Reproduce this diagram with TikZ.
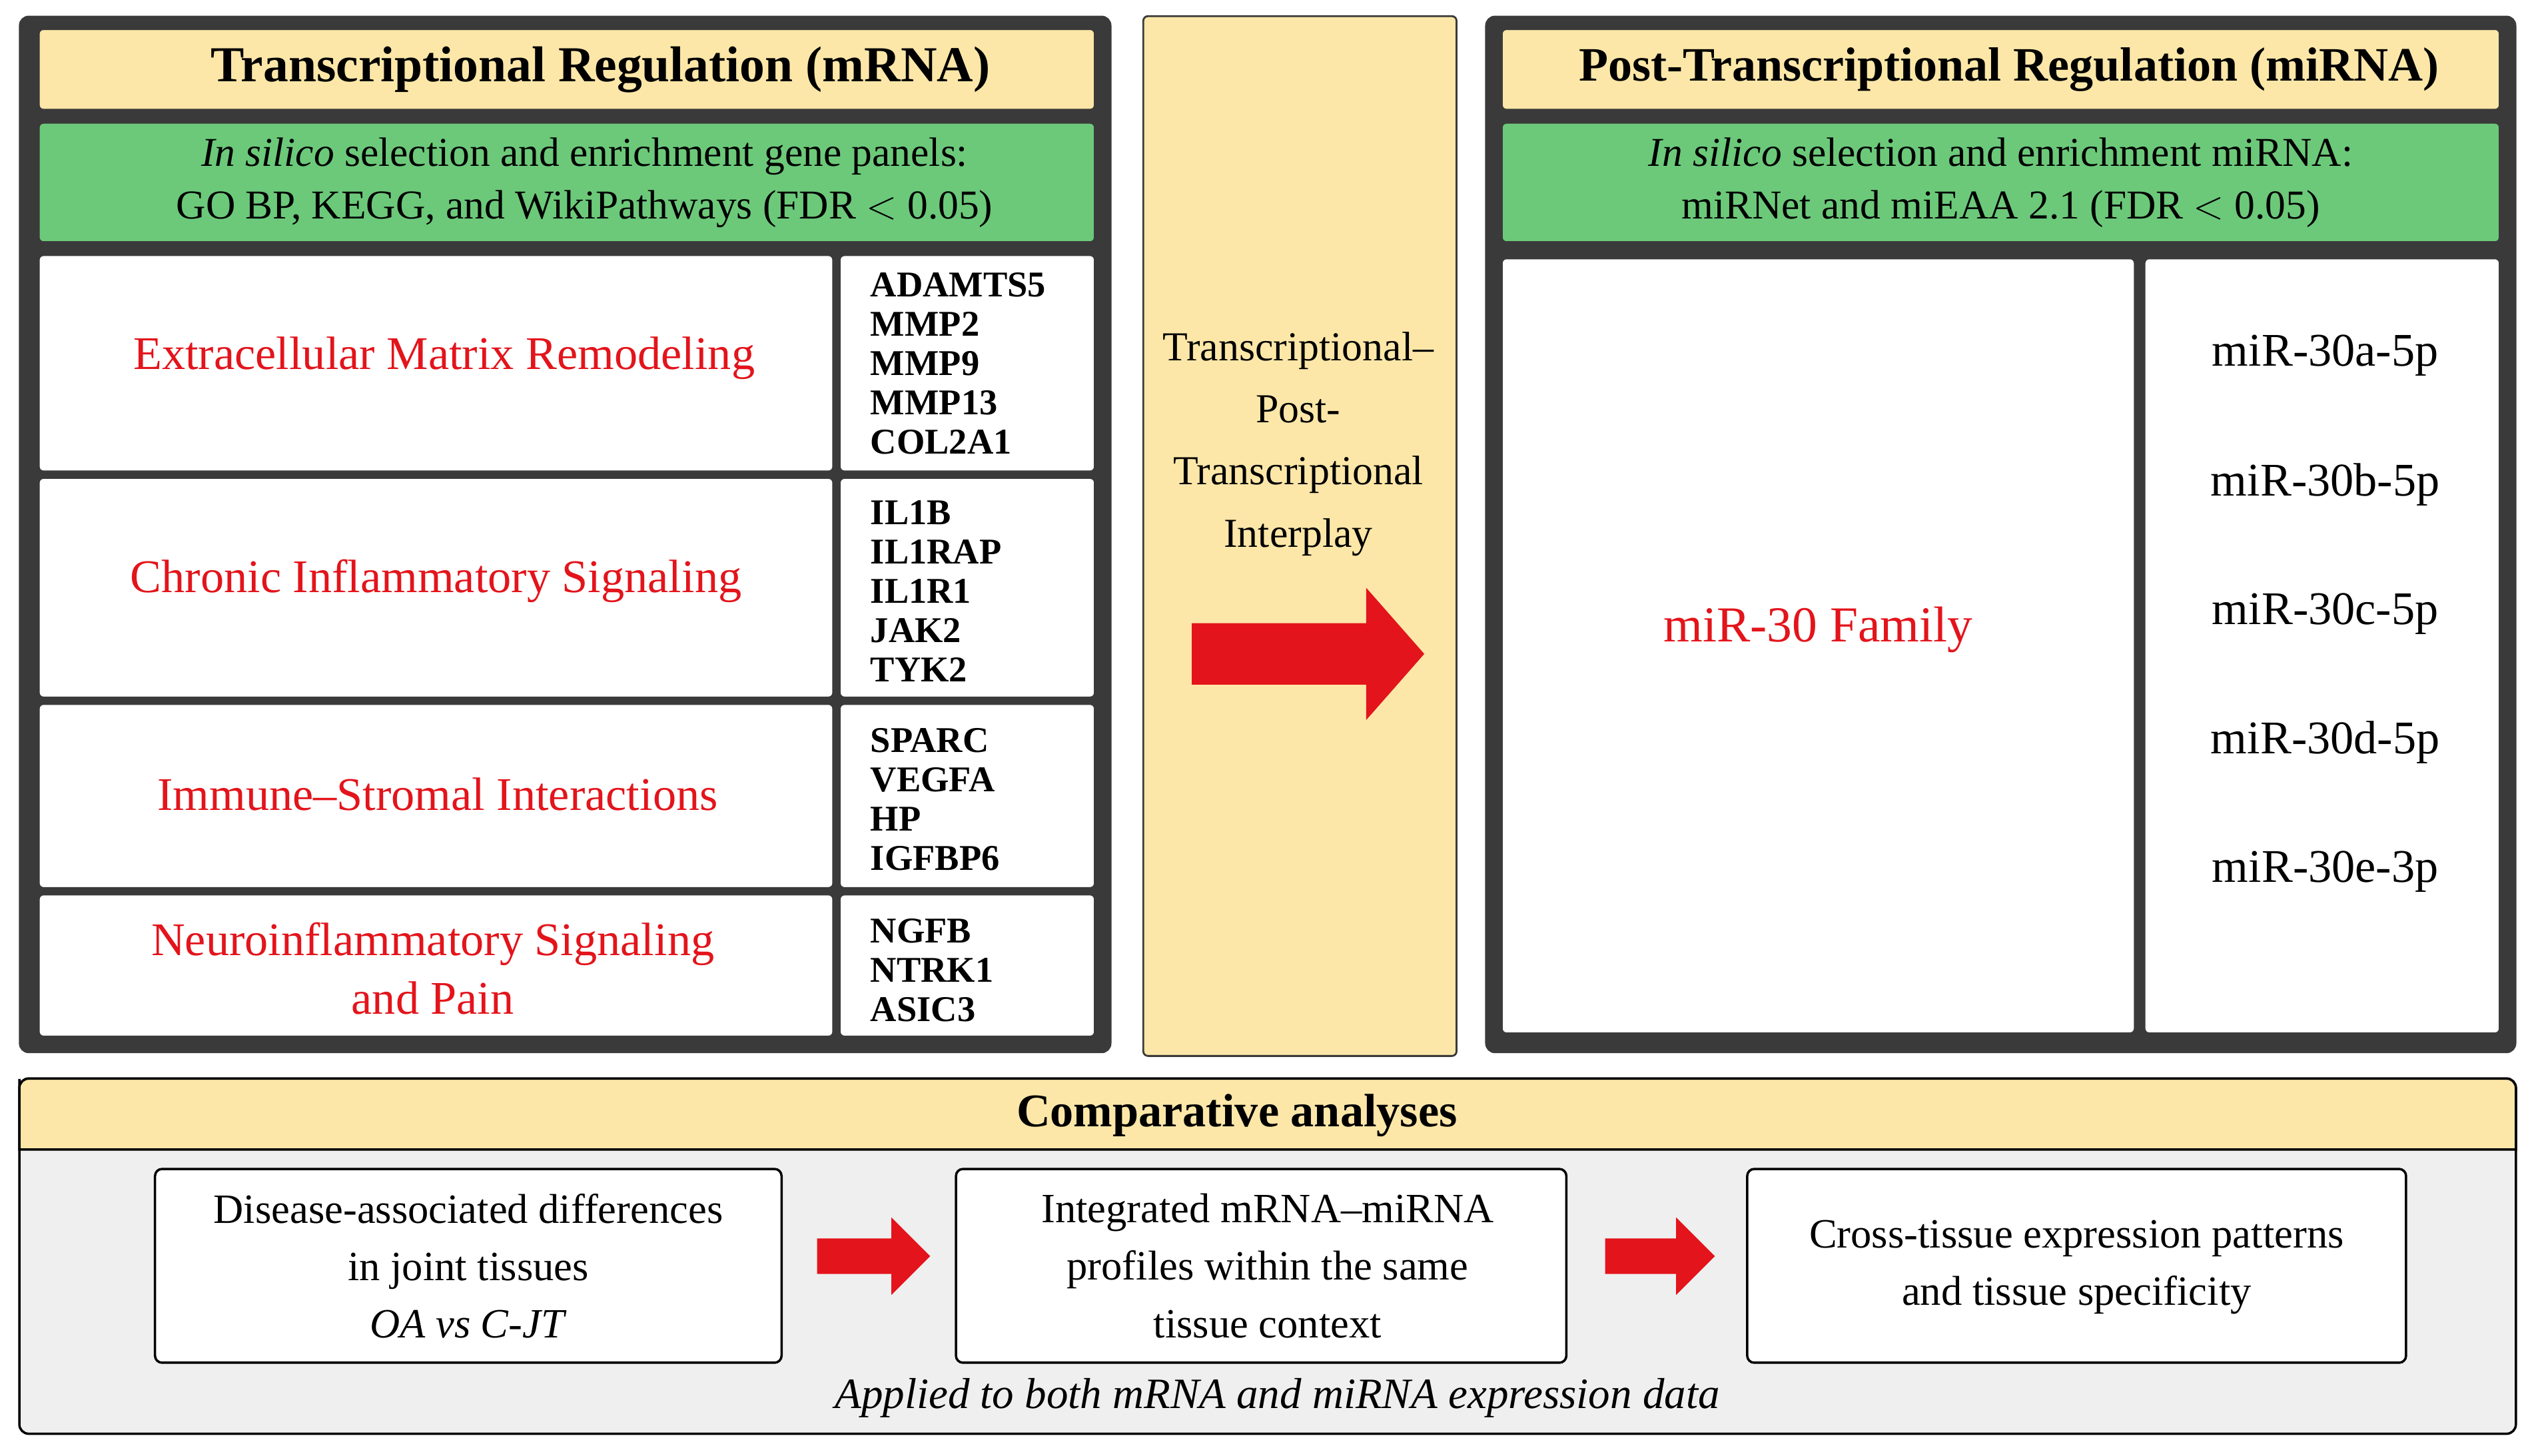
\documentclass[tikz,border=0pt]{standalone}
\usepackage{fontspec}
\setmainfont{Liberation Serif}
\usetikzlibrary{arrows.meta,positioning}
\definecolor{hdryellow}{HTML}{FCE7A8}
\definecolor{selgreen}{HTML}{6CC97A}
\definecolor{frame}{HTML}{3A3A3A}
\definecolor{pathred}{HTML}{E3141B}
\definecolor{lightgray}{HTML}{EFEFEF}

\tikzset{
  panel/.style={fill=frame, draw=frame, rounded corners=4pt},
  header/.style={fill=hdryellow, draw=frame, line width=0.8pt, rounded corners=2pt},
  select/.style={fill=selgreen, draw=frame, line width=0.8pt, rounded corners=2pt},
  cell/.style={fill=white, draw=frame, line width=0.8pt, rounded corners=2pt},
  stage/.style={fill=white, draw=black, line width=1pt, rounded corners=3pt},
  bigarrow/.style={fill=pathred, draw=none},
  pathway/.style={text=pathred, font=\fontsize{20}{25}\selectfont, align=center},
  gene/.style={font=\bfseries\fontsize{15.5}{16.8}\selectfont, align=left},
  mirna/.style={font=\fontsize{20}{24}\selectfont},
  steptext/.style={align=center, font=\fontsize{17.8}{24.5}\selectfont},
}

\begin{document}
\begin{tikzpicture}[x=0.02424cm, y=-0.02424cm]
  \useasboundingbox (0,0) rectangle (1568,901.4);
  % left panel
  \draw[panel] (12,10) rectangle (688,652);
  \draw[header] (24,18) rectangle (678,68);
  \node (lhead) at (372,43) {\bfseries\fontsize{21.5}{24}\selectfont Transcriptional Regulation (mRNA)};
  \draw[select] (24,76) rectangle (678,150);
  \node[align=center, font=\fontsize{17.5}{22.5}\selectfont] (lsel) at (362,113)
    {\textit{In silico} selection and enrichment gene panels:\\GO BP, KEGG, and WikiPathways (FDR {$<$} 0.05)};
  \foreach \ya/\yb in {158/292, 296/432, 436/550, 554/642} {
    \draw[cell] (24,\ya) rectangle (516,\yb);
    \draw[cell] (520,\ya) rectangle (678,\yb);
  }
  \node[pathway] (ecm) at (275,222) {Extracellular Matrix Remodeling};
  \node[pathway] (cis) at (270,360) {Chronic Inflammatory Signaling};
  \node[pathway] (isi) at (271,492) {Immune–Stromal Interactions};
  \node[pathway] (nsp) at (268,600) {Neuroinflammatory Signaling\\and Pain};
  \node[gene, anchor=west] (g1) at (534,225) {ADAMTS5\\MMP2\\MMP9\\MMP13\\COL2A1};
  \node[gene, anchor=west] (g2) at (534,366) {IL1B\\IL1RAP\\IL1R1\\JAK2\\TYK2};
  \node[gene, anchor=west] (g3) at (534,495) {SPARC\\VEGFA\\HP\\IGFBP6};
  \node[gene, anchor=west] (g4) at (534,601) {NGFB\\NTRK1\\ASIC3};
  % middle column
  \draw[header] (708,10) rectangle (902,654);
  \node[align=center, font=\fontsize{17.6}{26.5}\selectfont] (inter) at (804,275)
    {Transcriptional–\\Post-\\Transcriptional\\Interplay};
  \fill[bigarrow] (738,386) -- (846,386) -- (846,364) -- (882,405) -- (846,446) -- (846,424) -- (738,424) -- cycle;
  % right panel
  \draw[panel] (920,10) rectangle (1558,652);
  \draw[header] (930,18) rectangle (1548,68);
  \node (rhead) at (1244,43) {\bfseries\fontsize{20.5}{24}\selectfont Post-Transcriptional Regulation (miRNA)};
  \draw[select] (930,76) rectangle (1548,150);
  \node[align=center, font=\fontsize{17.5}{22.5}\selectfont] (rsel) at (1239,113)
    {\textit{In silico} selection and enrichment miRNA:\\miRNet and miEAA 2.1 (FDR {$<$} 0.05)};
  \draw[cell] (930,160) rectangle (1322,640);
  \draw[cell] (1328,160) rectangle (1548,640);
  \node[pathway, font=\fontsize{21.5}{25}\selectfont] (fam) at (1126,390) {miR-30 Family};
  \foreach \name/\y in {a-5p/220, b-5p/300, c-5p/380, d-5p/460, e-3p/540}
    \node[mirna] (m\y) at (1440,\y) {miR-30\name};
  % bottom panel
  \draw[fill=lightgray, draw=black, line width=1pt, rounded corners=4pt] (12,668) rectangle (1558,888);
  \draw[fill=hdryellow, draw=black, line width=1pt] (12,674) -- (12,712) -- (1558,712) -- (1558,674)
    [rounded corners=4pt] -- (1558,668) -- (12,668) -- cycle;
  \node (comp) at (766,691) {\bfseries\fontsize{20}{23}\selectfont Comparative analyses};
  \draw[stage] (96,724) rectangle (484,844);
  \draw[stage] (592,724) rectangle (970,844);
  \draw[stage] (1082,724) rectangle (1490,844);
  \node[steptext] (s1) at (290,784)
    {Disease-associated differences\\in joint tissues\\\textit{OA vs C-JT}};
  \node[steptext] (s2) at (785,784)
    {Integrated mRNA–miRNA\\profiles within the same\\tissue context};
  \node[steptext] (s3) at (1286,785)
    {Cross-tissue expression patterns\\and tissue specificity};
  \fill[bigarrow] (506,767) -- (552,767) -- (552,754) -- (576,778) -- (552,802) -- (552,789) -- (506,789) -- cycle;
  \fill[bigarrow] (994,767) -- (1038,767) -- (1038,754) -- (1062,778) -- (1038,802) -- (1038,789) -- (994,789) -- cycle;
  \node[font=\itshape\fontsize{18.5}{21}\selectfont] (note) at (791,866) {Applied to both mRNA and miRNA expression data};
\end{tikzpicture}
\end{document}
